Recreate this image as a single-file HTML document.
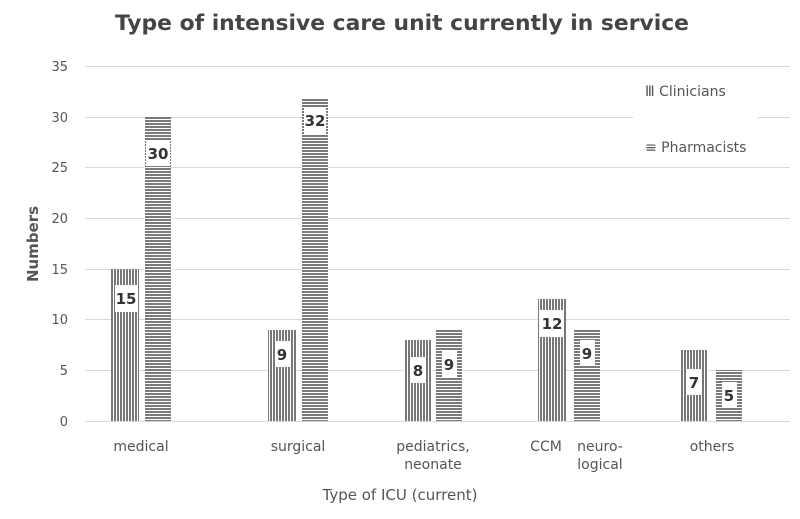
<!DOCTYPE html>
<html><head><style>
body{margin:0;background:#fff;}
svg{display:block;font-family:"DejaVu Sans","Liberation Sans",sans-serif;}
</style></head><body>
<svg width="800" height="519" viewBox="0 0 800 519">
<defs>
<pattern id="v" width="3" height="3" patternUnits="userSpaceOnUse"><rect width="3" height="3" fill="#fff"/><rect width="2" height="3" fill="#777"/></pattern>
<pattern id="h" width="3" height="3" patternUnits="userSpaceOnUse"><rect width="3" height="3" fill="#fff"/><rect width="3" height="2" fill="#7a7a7a"/></pattern>
</defs>
<text x="402" y="30" text-anchor="middle" font-size="21.5" font-weight="bold" fill="#444" textLength="574" lengthAdjust="spacingAndGlyphs">Type of intensive care unit currently in service</text>
<g stroke="#d9d9d9" stroke-width="1">
<line x1="85" x2="790" y1="66.5" y2="66.5"/><line x1="85" x2="790" y1="117.5" y2="117.5"/><line x1="85" x2="790" y1="167.5" y2="167.5"/><line x1="85" x2="790" y1="218.5" y2="218.5"/><line x1="85" x2="790" y1="269.5" y2="269.5"/><line x1="85" x2="790" y1="319.5" y2="319.5"/><line x1="85" x2="790" y1="370.5" y2="370.5"/><line x1="85" x2="790" y1="421.5" y2="421.5"/>
</g>
<g font-size="13" fill="#555" text-anchor="end">
<text x="68" y="71">35</text><text x="68" y="122">30</text><text x="68" y="172">25</text><text x="68" y="223">20</text><text x="68" y="274">15</text><text x="68" y="324">10</text><text x="68" y="375">5</text><text x="68" y="426">0</text>
</g>
<rect x="633" y="67" width="125" height="100" fill="#fff"/>
<text x="645" y="96" font-size="14" fill="#555">Ⅲ Clinicians</text>
<text x="645" y="152" font-size="14" fill="#555">≡ Pharmacists</text>
<g>
<rect x="111" y="269" width="28" height="152" fill="url(#v)"/>
<rect x="145" y="117" width="26" height="304" fill="url(#h)"/>
<rect x="268" y="330" width="28" height="91" fill="url(#v)"/>
<rect x="302" y="98" width="26" height="323" fill="url(#h)"/>
<rect x="404" y="340" width="28" height="81" fill="url(#v)"/>
<rect x="436" y="330" width="26" height="91" fill="url(#h)"/>
<rect x="538" y="299" width="28" height="122" fill="url(#v)"/>
<rect x="574" y="330" width="26" height="91" fill="url(#h)"/>
<rect x="680" y="350" width="28" height="71" fill="url(#v)"/>
<rect x="716" y="370" width="26" height="51" fill="url(#h)"/>
</g>
<g font-size="15" font-weight="bold" fill="#333" text-anchor="middle">
<rect x="115" y="285" width="22" height="27" fill="#fff"/><text x="126" y="304">15</text>
<rect x="146" y="140" width="24" height="26" fill="#fff"/><text x="158" y="159">30</text>
<rect x="275" y="341" width="15" height="26" fill="#fff"/><text x="282" y="360">9</text>
<rect x="304" y="107" width="22" height="27" fill="#fff"/><text x="315" y="126">32</text>
<rect x="411" y="357" width="15" height="26" fill="#fff"/><text x="418" y="376">8</text>
<rect x="442" y="351" width="15" height="26" fill="#fff"/><text x="449" y="370">9</text>
<rect x="540" y="310" width="24" height="27" fill="#fff"/><text x="552" y="329">12</text>
<rect x="580" y="340" width="15" height="26" fill="#fff"/><text x="587" y="359">9</text>
<rect x="687" y="369" width="15" height="26" fill="#fff"/><text x="694" y="388">7</text>
<rect x="722" y="382" width="15" height="26" fill="#fff"/><text x="729" y="401">5</text>
</g>
<g font-size="14" fill="#555" text-anchor="middle">
<text x="141" y="451">medical</text>
<text x="298" y="451">surgical</text>
<text x="433" y="451">pediatrics,</text><text x="433" y="469">neonate</text>
<text x="546" y="451">CCM</text>
<text x="600" y="451">neuro-</text><text x="600" y="469">logical</text>
<text x="712" y="451">others</text>
</g>
<text x="400" y="500" text-anchor="middle" font-size="15" fill="#555">Type of ICU (current)</text>
<text transform="translate(38,244) rotate(-90)" text-anchor="middle" font-size="15" font-weight="bold" fill="#555">Numbers</text>
</svg>
</body></html>
